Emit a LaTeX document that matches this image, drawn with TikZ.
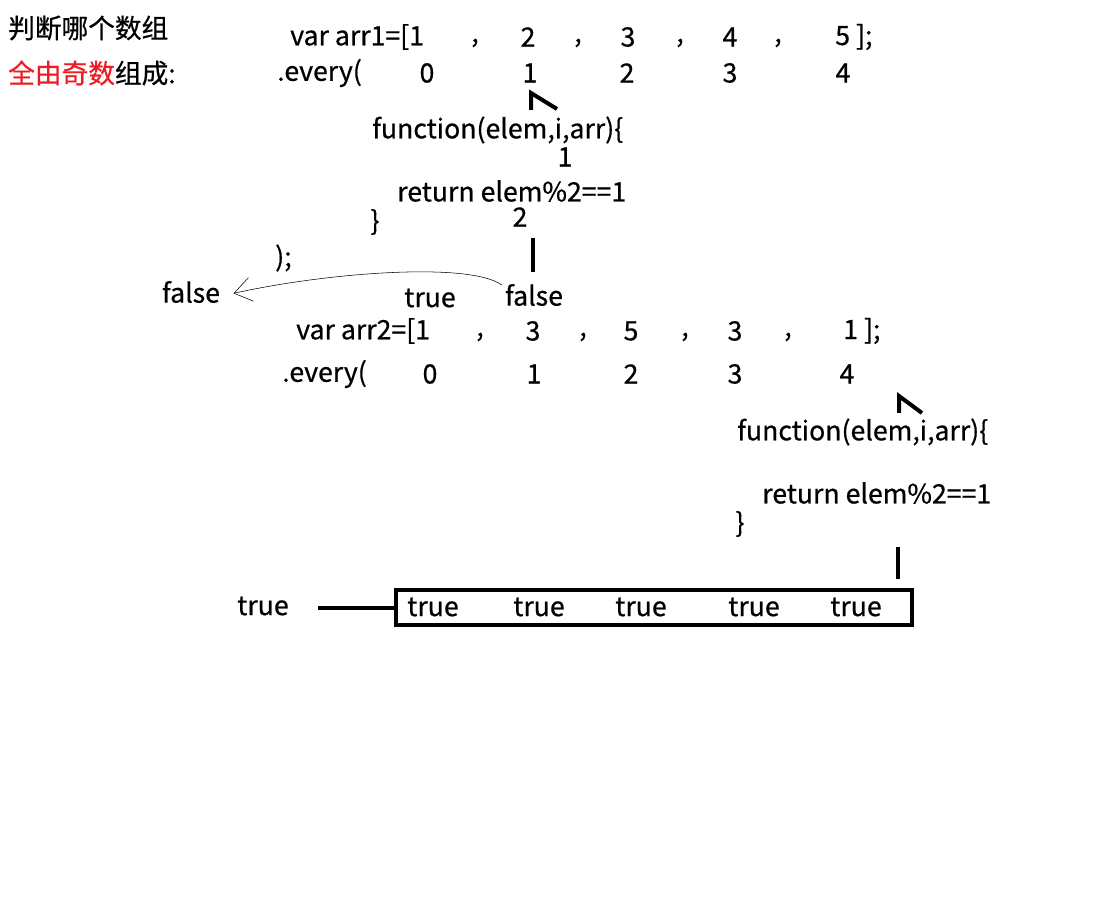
\documentclass[tikz,border=0pt]{standalone}
\usepackage{fontspec}
\setmainfont{Noto Sans CJK SC}[FakeBold=0.6]
\usetikzlibrary{arrows.meta}
\definecolor{jsred}{RGB}{237,28,36}

\begin{document}
\begin{tikzpicture}[x=0.75pt,y=-0.75pt,
	code/.style={font=\fontsize{20}{24}\selectfont,inner sep=0pt},
	lcode/.style={code,anchor=west},
	stroke/.style={line width=3pt},
	bk/.style={-{Straight Barb[length=13pt,width=18pt]},thin}]
	\useasboundingbox (0,0) rectangle (1110,898);

	\node[lcode] (T1) at (8,28) {判断哪个数组};
	\node[lcode] (T2) at (8,73) {\textcolor{jsred}{全由奇数}组成:};

	\node[lcode] (A1) at (290,37) {var arr1=[1};
	\foreach \x in {475,578,680,778} \node[code] at (\x,43) {,};
	\node[code] (A1v2) at (528,37) {2};
	\node[code] (A1v3) at (628,37) {3};
	\node[code] (A1v4) at (730,37) {4};
	\node[lcode] (A1e) at (835,37) {5 ];};
	\node[lcode] (E1) at (277,73) {.every(};
	\foreach \i/\x in {0/427,1/530,2/627,3/730,4/843} \node[code] (E1i\i) at (\x,73) {\i};

	\node[lcode] (F1) at (372,130) {function(elem,i,arr)\{};
	\node[code] (F1n) at (565,157) {1};
	\node[lcode] (R1) at (397,191) {return elem\%2==1};
	\node[code] (C1) at (375,222) {\}};
	\node[code] (R1n) at (520,217) {2};
	\node[lcode] (P1) at (275,258) {);};

	\node[code] (Fa0) at (191,292) {false};
	\node[code] (Tr1) at (430,298) {true};
	\node[code] (Fa1) at (534,295) {false};

	\node[lcode] (A2) at (296,331) {var arr2=[1};
	\foreach \x in {480,583,685,788} \node[code] at (\x,337) {,};
	\node[code] (A2v1) at (533,331) {3};
	\node[code] (A2v2) at (631,331) {5};
	\node[code] (A2v3) at (735,331) {3};
	\node[lcode] (A2e) at (843,331) {1 ];};
	\node[lcode] (E2) at (282,374) {.every(};
	\foreach \i/\x in {0/430,1/534,2/631,3/735,4/847} \node[code] (E2i\i) at (\x,374) {\i};

	\node[lcode] (F2) at (737,432) {function(elem,i,arr)\{};
	\node[lcode] (R2) at (762,493) {return elem\%2==1};
	\node[code] (C2) at (740,524) {\}};

	\node[draw,stroke,inner sep=0pt,minimum width=387pt,minimum height=26pt] (Box) at (654,607.5) {};
	\foreach \k/\x in {1/433,2/539,3/641,4/754,5/856} \node[code] (B\k) at (\x,607) {true};
	\node[code] (Res) at (263,606) {true};

	\coordinate (H1) at (531,93);
	\coordinate (H2) at (899,396);
	\draw[stroke] (H1) ++(0,17) -- (H1) -- ++(26,16);
	\draw[stroke] (H2) ++(0,17) -- (H2) -- ++(23,17);
	\draw[stroke] (Fa1.north) ++(-1,-12) -- ++(0,-34);
	\draw[stroke] (B5.north) ++(42,-18) -- ++(0,-32);
	\draw[bk] (Fa1.west) ++(-3,-10) .. controls (470,262) and (330,272) .. ([xshift=10pt,yshift=-1pt]Fa0.east);
	\draw[stroke] (Box.west) -- ++(-76,0);
\end{tikzpicture}
\end{document}
